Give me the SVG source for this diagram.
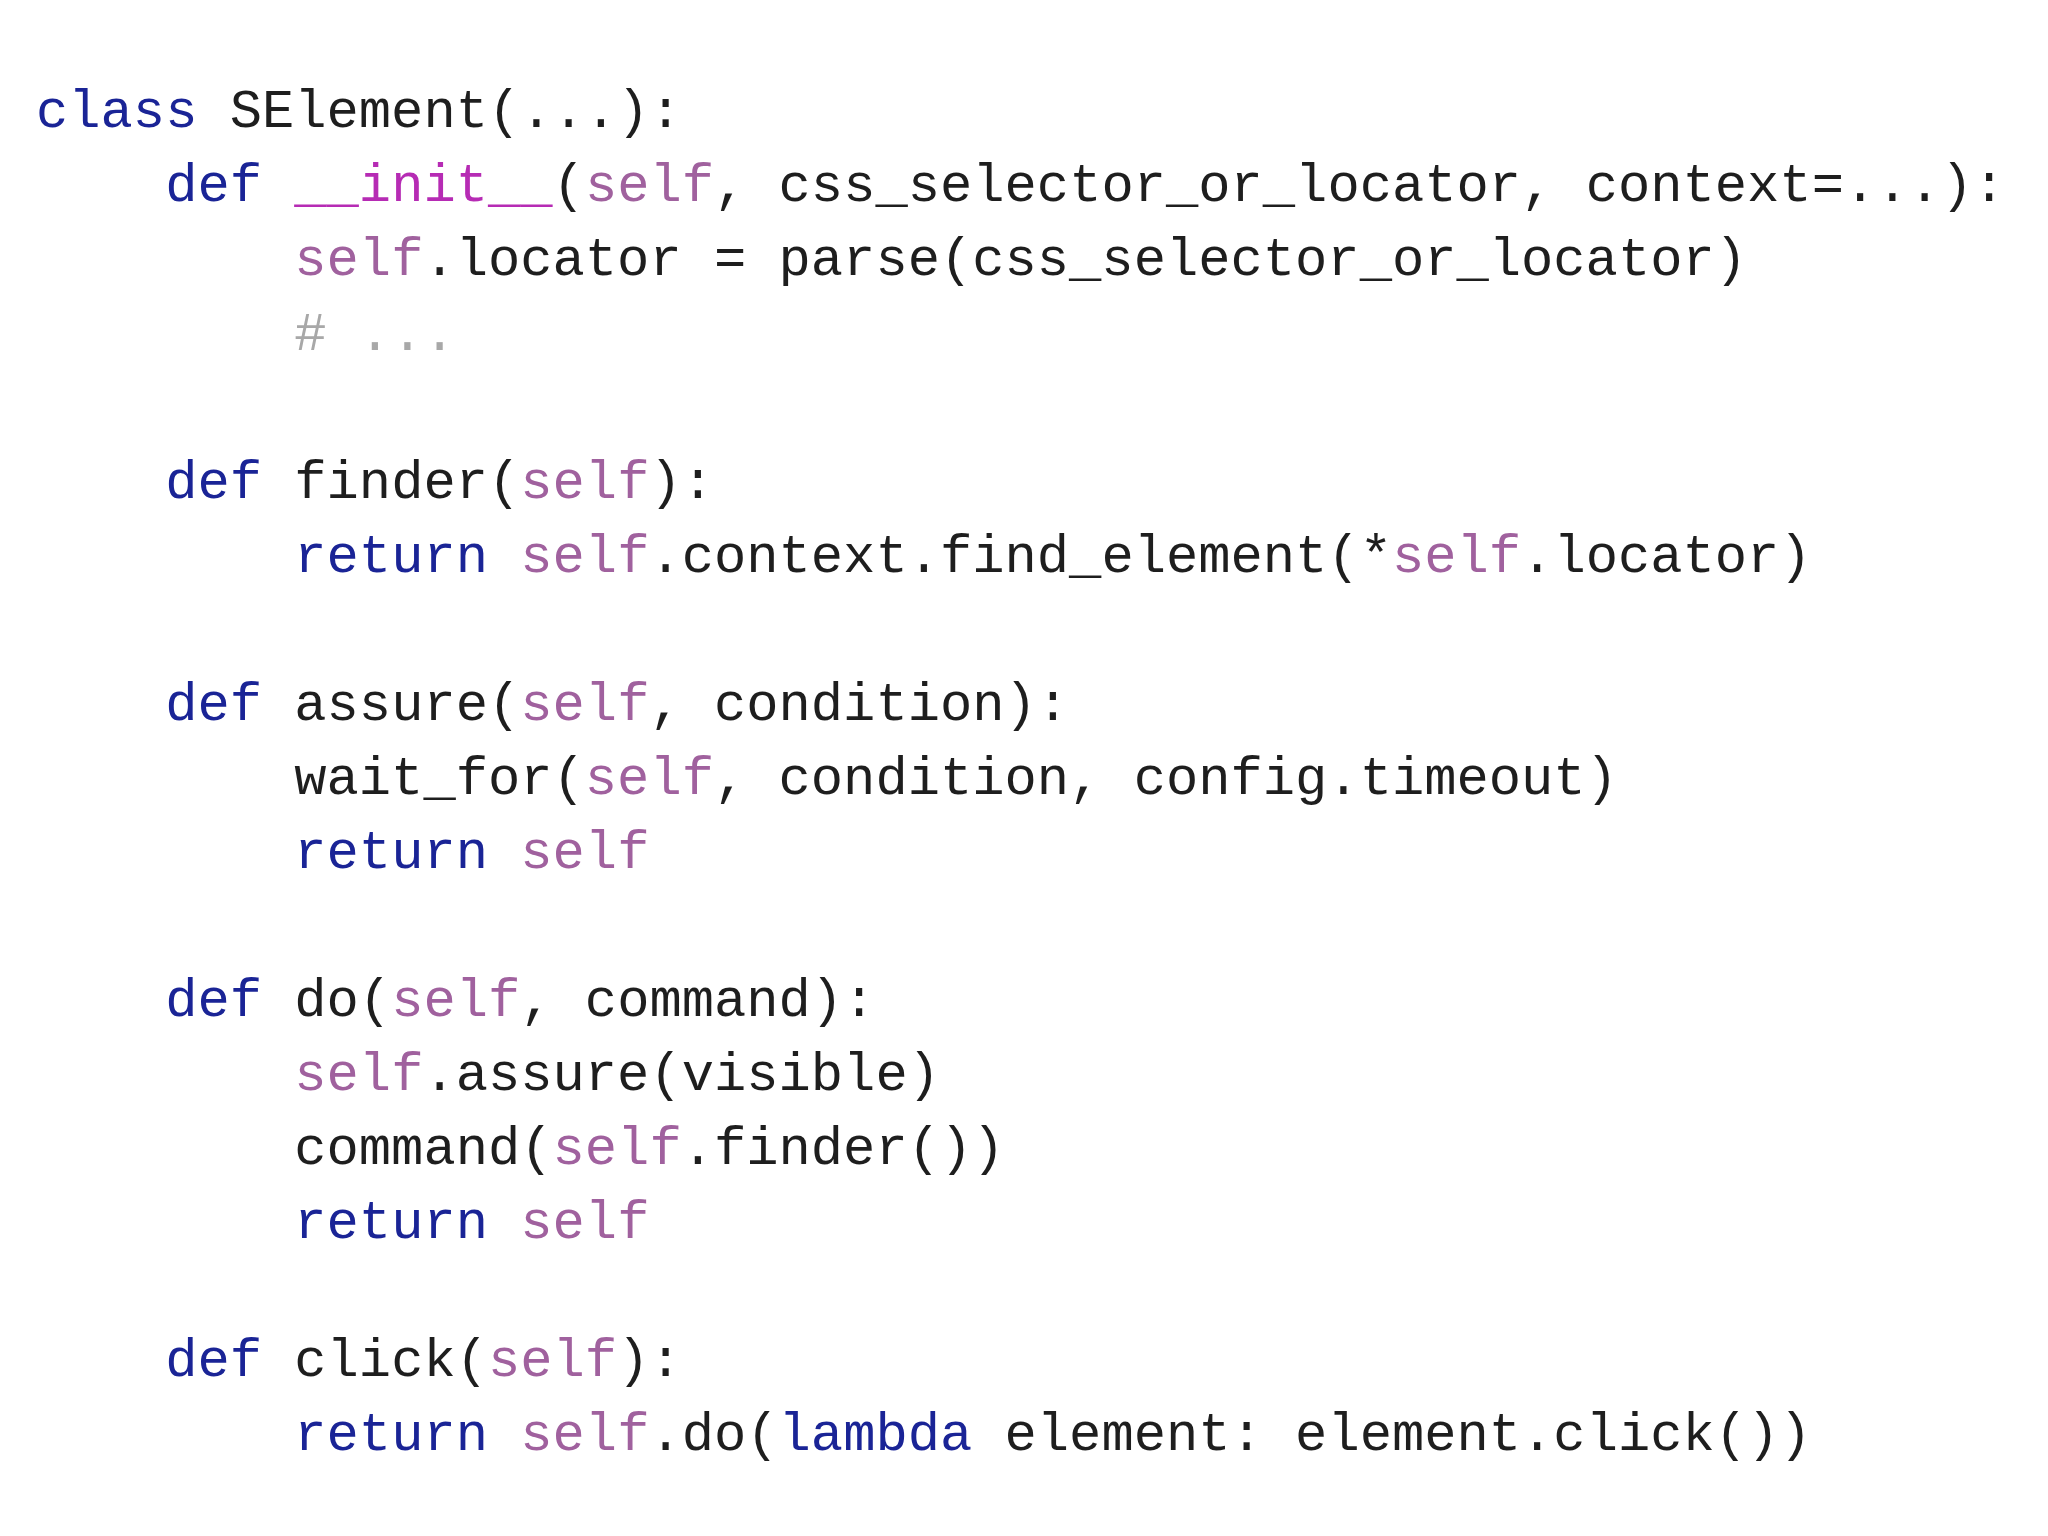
<svg xmlns="http://www.w3.org/2000/svg" width="2048" height="1536" viewBox="0 0 2048 1536" xml:space="preserve">
<style>
text{font-family:"Liberation Mono","DejaVu Sans Mono",monospace;font-size:53.8px;fill:#1e1e1e;white-space:pre}
.k{fill:#1a2496}.s{fill:#a0619e}.m{fill:#b62bb4}.c{fill:#a8a8a8}
</style>
<rect width="2048" height="1536" fill="#ffffff"/>
<g id="code">
<text x="36" y="127"><tspan class="k">class</tspan> SElement(...):</text>
<text x="36" y="201">    <tspan class="k">def</tspan> <tspan class="m">__init__</tspan>(<tspan class="s">self</tspan>, css_selector_or_locator, context=...):</text>
<text x="36" y="275">        <tspan class="s">self</tspan>.locator = parse(css_selector_or_locator)</text>
<text x="36" y="350">        <tspan class="c"># ...</tspan></text>
<text x="36" y="498">    <tspan class="k">def</tspan> finder(<tspan class="s">self</tspan>):</text>
<text x="36" y="572">        <tspan class="k">return</tspan> <tspan class="s">self</tspan>.context.find_element(*<tspan class="s">self</tspan>.locator)</text>
<text x="36" y="720">    <tspan class="k">def</tspan> assure(<tspan class="s">self</tspan>, condition):</text>
<text x="36" y="794">        wait_for(<tspan class="s">self</tspan>, condition, config.timeout)</text>
<text x="36" y="868">        <tspan class="k">return</tspan> <tspan class="s">self</tspan></text>
<text x="36" y="1016">    <tspan class="k">def</tspan> do(<tspan class="s">self</tspan>, command):</text>
<text x="36" y="1090">        <tspan class="s">self</tspan>.assure(visible)</text>
<text x="36" y="1164">        command(<tspan class="s">self</tspan>.finder())</text>
<text x="36" y="1238">        <tspan class="k">return</tspan> <tspan class="s">self</tspan></text>
<text x="36" y="1376">    <tspan class="k">def</tspan> click(<tspan class="s">self</tspan>):</text>
<text x="36" y="1450">        <tspan class="k">return</tspan> <tspan class="s">self</tspan>.do(<tspan class="k">lambda</tspan> element: element.click())</text>
</g>
</svg>
